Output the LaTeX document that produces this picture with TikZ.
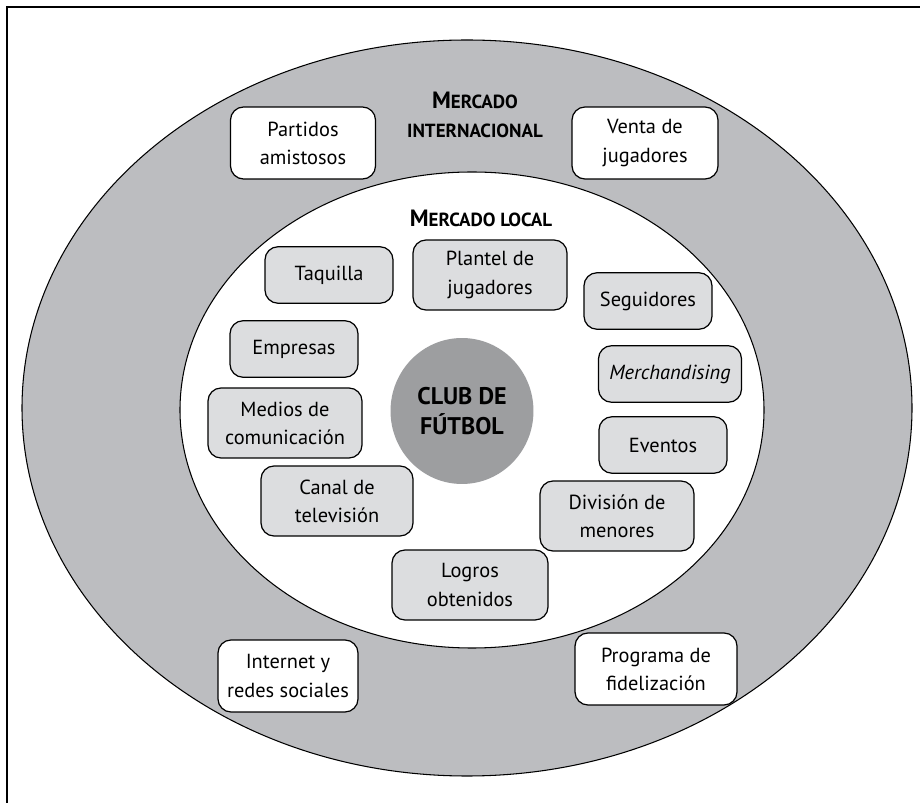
\documentclass[tikz,border=0pt]{standalone}
\usepackage{fontspec}
\setmainfont{PT Sans}
\usetikzlibrary{shapes.geometric}

\definecolor{ringgray}{HTML}{BCBDC0}
\definecolor{boxgray}{HTML}{DCDDDF}
\definecolor{clubgray}{HTML}{9D9EA0}

\tikzset{
  wbox/.style={draw, rounded corners=0.26cm, fill=white, line width=0.7pt,
    align=center, minimum width=2.9cm, minimum height=1.44cm, inner sep=0pt,
    font=\fontsize{11.6}{16}\selectfont},
  gbox/.style={wbox, fill=boxgray, minimum width=2.56cm, minimum height=1.13cm},
  gbox2/.style={gbox, minimum width=3.08cm, minimum height=1.4cm},
  mlabel/.style={font=\bfseries\fontsize{10.8}{16.5}\selectfont, align=center},
  club/.style={ellipse, fill=clubgray, minimum width=2.5cm, minimum height=2.92cm,
    align=center, font=\bfseries\fontsize{13.7}{17}\selectfont}
}
\newcommand{\capM}[1]{{\fontsize{13.4}{16.5}\selectfont #1}}

\begin{document}
\begin{tikzpicture}[x=0.02cm, y=-0.02cm]

\useasboundingbox (0,0) rectangle (920,803);
\draw[line width=1.1pt] (920,7) -- (7,7) -- (7,803);

% the two markets
\draw[fill=ringgray, line width=0.6pt] (467,408) ellipse [x radius=445, y radius=368];
\draw[fill=white, line width=0.6pt] (472,410) ellipse [x radius=292, y radius=238];

\node[mlabel] (intl)  at (475,115) {\capM{M}ERCADO\\INTERNACIONAL};
\node[mlabel] (local) at (481,218) {\capM{M}ERCADO LOCAL};

% international market
\node[wbox] (partidos) at (303,143) {Partidos\\amistosos};
\node[wbox, minimum width=2.92cm] (venta) at (645,143) {Venta de\\jugadores};
\node[wbox, minimum width=2.8cm] (internet) at (288,676) {Internet y\\redes sociales};
\node[wbox, minimum width=3.24cm] (programa) at (656,669) {Programa de\\fidelización};

% local market
\node[gbox] (taquilla) at (329,275) {Taquilla};
\node[gbox2] (plantel) at (490,275) {Plantel de\\jugadores};
\node[gbox] (seguidores) at (648,301) {Seguidores};
\node[gbox] (empresas) at (294,349) {Empresas};
\node[gbox, minimum width=2.86cm] (merch) at (670,374) {\itshape Merchandising};
\node[gbox2] (medios) at (285,423) {Medios de\\comunicación};
\node[gbox] (eventos) at (663,445) {Eventos};
\node[gbox2, minimum width=3.04cm] (canal) at (337,501) {Canal de\\televisión};
\node[gbox2] (division) at (617,516) {División de\\menores};
\node[gbox2, minimum width=3.12cm] (logros) at (470,585) {Logros\\obtenidos};

\node[club] (futbol) at (462,411) {CLUB DE\\FÚTBOL};

\end{tikzpicture}
\end{document}
